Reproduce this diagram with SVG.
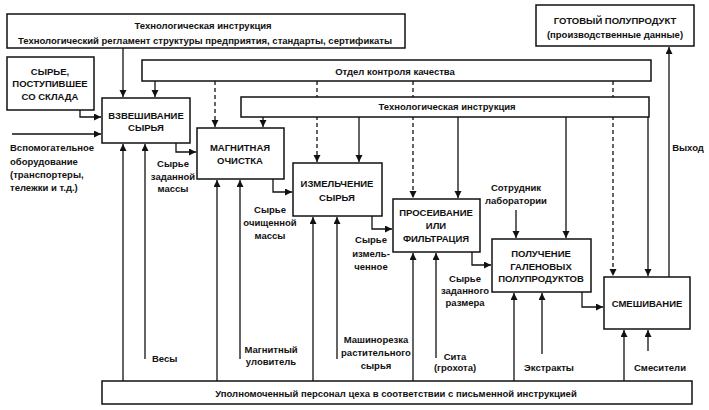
<svg xmlns="http://www.w3.org/2000/svg" width="709" height="410" viewBox="0 0 709 410">
<defs>
<marker id="ah" markerUnits="userSpaceOnUse" markerWidth="8" markerHeight="8" refX="7" refY="3.5" orient="auto">
<path d="M0,0 L7,3.5 L0,7 Z" fill="#111"/>
</marker>
<style>
rect.b{fill:#fff;stroke:#111;stroke-width:1.5}
.c path{fill:none;stroke:#111;stroke-width:1.3}
.c path.a{marker-end:url(#ah)}
.c path.d{stroke-dasharray:4 3}
text{font-family:"Liberation Sans",Arial,sans-serif;font-weight:bold;font-size:9.5px;fill:#111}
.m{text-anchor:middle}
</style>
</defs>
<rect width="709" height="410" fill="#fff"/>
<g id="connectors" class="c">
<path class="a" d="M123,48 V97"/>
<path class="a" d="M155,81 V97"/>
<path class="a" d="M263,117 V127"/>
<path class="a" d="M359,117 V162"/>
<path class="a" d="M458,117 V198"/>
<path class="a" d="M566,117 V238"/>
<path class="a" d="M648,117 V276"/>
<path class="a d" d="M215,81 V127"/>
<path class="a d" d="M317,81 V162"/>
<path class="a d" d="M413,81 V198"/>
<path class="a d" d="M613,81 V276"/>
<path class="a" d="M669,277 V47"/>
<path class="a" d="M80,110 V117 H101"/>
<path class="a" d="M12,134 H101"/>
<path class="a" d="M176,143 V152 H196"/>
<path class="a" d="M273,179 V192 H292"/>
<path class="a" d="M372,216 V229 H392"/>
<path class="a" d="M472,252 V265 H491"/>
<path class="a" d="M582,292 V307 H603"/>
<path class="a" d="M123,381 V144"/>
<path class="a" d="M145,359 V144"/>
<path class="a" d="M217,381 V180"/>
<path class="a" d="M240,359 V180"/>
<path class="a" d="M313,381 V217"/>
<path class="a" d="M337,359 V217"/>
<path class="a" d="M413,381 V253"/>
<path class="a" d="M436,358 V253"/>
<path class="a" d="M514,381 V293"/>
<path class="a" d="M542,354 V293"/>
<path class="a" d="M624,381 V330"/>
<path class="a" d="M648,351 V330"/>
<path class="a" d="M516,210 V238"/>
</g>
<g id="n-tech-top"><rect class="b" x="7" y="14" width="398" height="34"/>
<text class="m" x="203" y="28.5">Технологическая инструкция</text>
<text class="m" x="205" y="43.5">Технологический регламент структуры предприятия, стандарты, сертификаты</text></g>
<g id="n-syrie-sklad"><rect class="b" x="7" y="57" width="87" height="53"/>
<text class="m" x="50" y="74.5">СЫРЬЕ,</text>
<text class="m" x="50" y="86.5">ПОСТУПИВШЕЕ</text>
<text class="m" x="50" y="99.5">СО СКЛАДА</text></g>
<g id="n-okk"><rect class="b" x="142" y="60" width="509" height="21"/>
<text class="m" x="395" y="74.5">Отдел контроля качества</text></g>
<g id="n-tech-bar"><rect class="b" x="241" y="97" width="408" height="20"/>
<text class="m" x="447" y="110">Технологическая инструкция</text></g>
<g id="n-gotovy"><rect class="b" x="536" y="5" width="158" height="41"/>
<text class="m" x="615" y="23.5">ГОТОВЫЙ ПОЛУПРОДУКТ</text>
<text class="m" x="615" y="37.5">(производственные данные)</text></g>
<g id="n-vzvesh"><rect class="b" x="102" y="98" width="88" height="45"/>
<text class="m" x="146" y="118.5">ВЗВЕШИВАНИЕ</text>
<text class="m" x="146" y="130.5">СЫРЬЯ</text></g>
<g id="n-magn"><rect class="b" x="197" y="128" width="87" height="51"/>
<text class="m" x="240" y="150.5">МАГНИТНАЯ</text>
<text class="m" x="240" y="164">ОЧИСТКА</text></g>
<g id="n-izmel"><rect class="b" x="293" y="163" width="89" height="53"/>
<text class="m" x="337" y="186.5">ИЗМЕЛЬЧЕНИЕ</text>
<text class="m" x="337" y="200.5">СЫРЬЯ</text></g>
<g id="n-prosev"><rect class="b" x="393" y="199" width="87" height="53"/>
<text class="m" x="436" y="215.5">ПРОСЕИВАНИЕ</text>
<text class="m" x="436" y="228.5">ИЛИ</text>
<text class="m" x="436" y="241.5">ФИЛЬТРАЦИЯ</text></g>
<g id="n-polych"><rect class="b" x="492" y="239" width="99" height="53"/>
<text class="m" x="541" y="256.5">ПОЛУЧЕНИЕ</text>
<text class="m" x="541" y="269.5">ГАЛЕНОВЫХ</text>
<text class="m" x="541" y="281.5">ПОЛУПРОДУКТОВ</text></g>
<g id="n-smesh"><rect class="b" x="604" y="277" width="86" height="52"/>
<text class="m" x="647" y="306.5">СМЕШИВАНИЕ</text></g>
<g id="n-personal"><rect class="b" x="102" y="381" width="590" height="23"/>
<text class="m" x="396" y="396.5">Уполномоченный персонал цеха в соответствии с письменной инструкцией</text></g>
<g id="labels">
<text x="10" y="150.5">Вспомогательное</text>
<text x="10" y="164.5">оборудование</text>
<text x="10" y="177.5">(транспортеры,</text>
<text x="10" y="190.5">тележки и т.д.)</text>
<text class="m" x="173" y="166.5">Сырье</text>
<text class="m" x="173" y="179.5">заданной</text>
<text class="m" x="173" y="191.5">массы</text>
<text class="m" x="270" y="212.5">Сырье</text>
<text class="m" x="270" y="225.5">очищенной</text>
<text class="m" x="270" y="238.5">массы</text>
<text class="m" x="371" y="243">Сырье</text>
<text class="m" x="371" y="256.5">измель-</text>
<text class="m" x="371" y="269.5">ченное</text>
<text class="m" x="465" y="281.5">Сырье</text>
<text class="m" x="465" y="293.5">заданного</text>
<text class="m" x="465" y="305.5">размера</text>
<text class="m" x="516" y="190.5">Сотрудник</text>
<text class="m" x="516" y="203.5">лаборатории</text>
<text class="m" x="688" y="150.5">Выход</text>
<text x="152" y="361.5">Весы</text>
<text class="m" x="271" y="352.5">Магнитный</text>
<text class="m" x="271" y="364.5">уловитель</text>
<text class="m" x="376" y="342.5">Машинорезка</text>
<text class="m" x="376" y="355.5">растительного</text>
<text class="m" x="376" y="368.5">сырья</text>
<text class="m" x="455" y="359.5">Сита</text>
<text class="m" x="455" y="370.5">(грохота)</text>
<text class="m" x="549" y="370.5">Экстракты</text>
<text class="m" x="660" y="370.5">Смесители</text>
</g>
</svg>
